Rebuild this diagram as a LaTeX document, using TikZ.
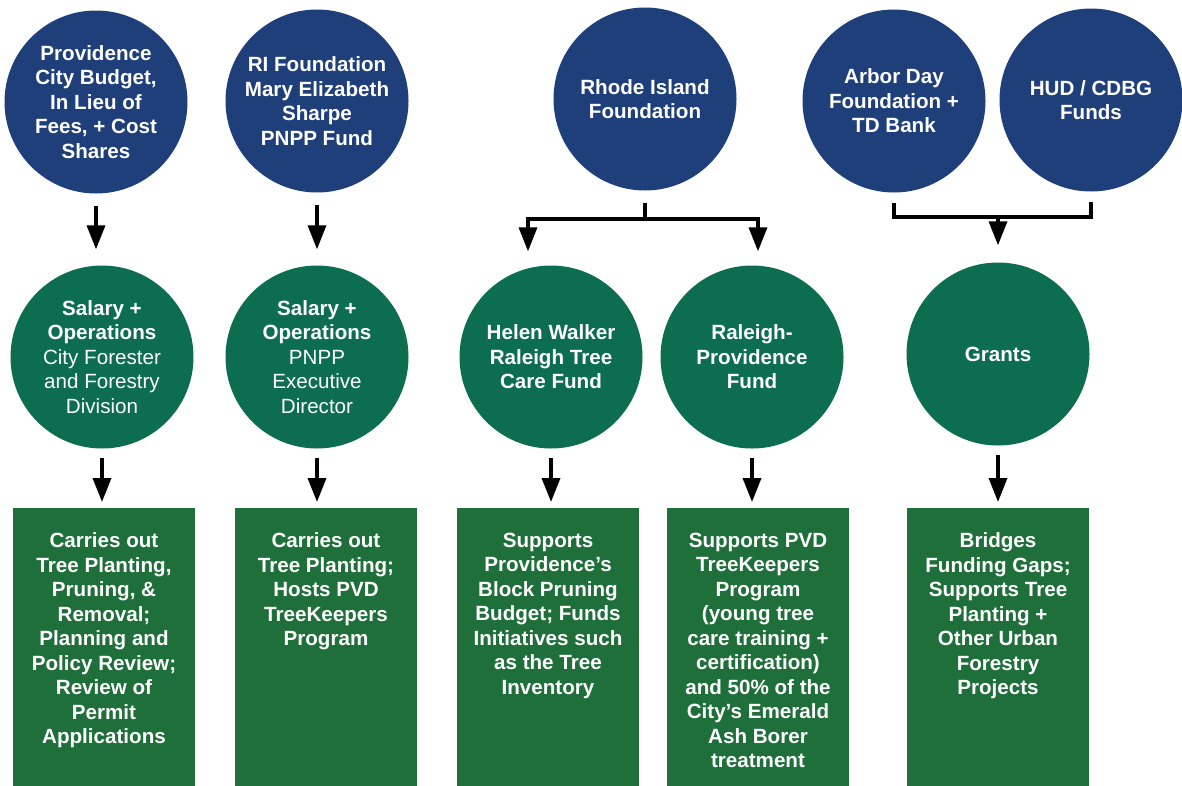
\documentclass[tikz,border=0pt]{standalone}
\usepackage{fontspec}
\setmainfont{Liberation Sans}
\usetikzlibrary{arrows.meta}
\definecolor{fundblue}{HTML}{1E3F7A}
\definecolor{fundgreen}{HTML}{0C6D4F}
\definecolor{taskgreen}{HTML}{1F6F3A}
\newcommand{\tasktext}[1]{\parbox[t][233pt][t]{182pt}{\centering #1}}

\begin{document}
\begin{tikzpicture}[x=1pt,y=-1pt,
    arr/.style={line width=3.5pt,-{Triangle[width=18pt,length=24pt]}},
    bar/.style={line width=3.5pt}]
  \useasboundingbox (0,0) rectangle (1182,785);

  \begin{scope}[every node/.style={circle,fill=fundblue,text=white,minimum size=183pt,inner sep=0pt,align=center,font=\fontsize{20.6}{24.5}\selectfont\bfseries}]
    \node (pcb)  at (96,102)   {Providence\\City Budget,\\In Lieu of\\Fees, + Cost\\Shares};
    \node (rims) at (317,101)  {RI Foundation\\Mary Elizabeth\\Sharpe\\PNPP Fund};
    \node (rif)  at (645,99)   {Rhode Island\\Foundation};
    \node (adf)  at (894,101)  {Arbor Day\\Foundation +\\TD Bank};
    \node (hud)  at (1091,100) {HUD / CDBG\\Funds};
  \end{scope}

  \begin{scope}[every node/.style={circle,fill=fundgreen,text=white,minimum size=183pt,inner sep=0pt,align=center,font=\fontsize{20.6}{24.5}\selectfont\bfseries}]
    \node (cfo)  at (102,357) {Salary +\\Operations\\{\mdseries City Forester}\\{\mdseries and Forestry}\\{\mdseries Division}};
    \node (pnpp) at (317,357) {Salary +\\Operations\\{\mdseries PNPP}\\{\mdseries Executive}\\{\mdseries Director}};
    \node (hw)   at (551,357) {Helen Walker\\Raleigh Tree\\Care Fund};
    \node (rp)   at (752,357) {Raleigh-\\Providence\\Fund};
    \node (gr)   at (998,354) {Grants};
  \end{scope}

  \begin{scope}[every node/.style={rectangle,anchor=north,fill=taskgreen,text=white,inner xsep=0pt,inner ysep=24.5pt,font=\fontsize{20.6}{24.5}\selectfont\bfseries}]
    \node (cfotask)  at (104,508) {\tasktext{Carries out\\Tree Planting,\\Pruning, \&\\Removal;\\Planning and\\Policy Review;\\Review of\\Permit\\Applications}};
    \node (pnpptask) at (326,508) {\tasktext{Carries out\\Tree Planting;\\Hosts PVD\\TreeKeepers\\Program}};
    \node (hwtask)   at (548,508) {\tasktext{Supports\\Providence’s\\Block Pruning\\Budget; Funds\\Initiatives such\\as the Tree\\Inventory}};
    \node (rptask)   at (758,508) {\tasktext{Supports PVD\\TreeKeepers\\Program\\(young tree\\care training +\\certification)\\and 50\% of the\\City’s Emerald\\Ash Borer\\treatment}};
    \node (grtask)   at (998,508) {\tasktext{Bridges\\Funding Gaps;\\Supports Tree\\Planting +\\Other Urban\\Forestry\\Projects}};
  \end{scope}

  \coordinate (hwfork) at (528,219);
  \coordinate (rpfork) at (758,219);
  \coordinate (grfork) at (998,217);

  \draw[arr,shorten <=12pt,shorten >=16pt] (pcb.south) -- (pcb.south |- cfo.north);
  \draw[arr,shorten <=12pt,shorten >=16pt] (rims.south) -- (rims.south |- pnpp.north);

  \draw[bar,shorten <=12pt] (rif.south) -- (rif.south |- hwfork);
  \draw[bar,{Triangle[width=18pt,length=24pt]}-{Triangle[width=18pt,length=24pt]},shorten <=14pt,shorten >=14pt]
    (hwfork |- hw.north) |- (rpfork) -- (rpfork |- rp.north);

  \draw[bar,shorten <=10pt,shorten >=10pt] (adf.south) |- (grfork) -| (hud.south);
  \draw[arr,shorten >=17pt] (grfork) -- (grfork |- gr.north);

  \draw[arr,shorten <=9pt,shorten >=6pt] (cfo.south) -- (cfo.south |- cfotask.north);
  \draw[arr,shorten <=9pt,shorten >=6pt] (pnpp.south) -- (pnpp.south |- pnpptask.north);
  \draw[arr,shorten <=9pt,shorten >=6pt] (hw.south) -- (hw.south |- hwtask.north);
  \draw[arr,shorten <=9pt,shorten >=6pt] (rp.south) -- (rp.south |- rptask.north);
  \draw[arr,shorten <=9pt,shorten >=6pt] (gr.south) -- (gr.south |- grtask.north);

\end{tikzpicture}
\end{document}
